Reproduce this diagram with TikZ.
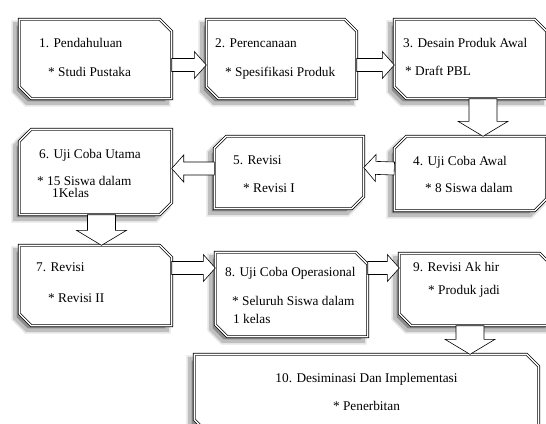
\documentclass[tikz,border=0pt]{standalone}
\usepackage{fontspec}
\setmainfont{Liberation Serif}
\usetikzlibrary{calc}

% chamfered outlines of the last node
\newcommand\fwdpath{(\tikzlastnode.north west) -- ([xshift=-12pt]\tikzlastnode.north east)
  -- ([yshift=-12pt]\tikzlastnode.north east) -- (\tikzlastnode.south east)
  -- ([xshift=12pt]\tikzlastnode.south west) -- ([yshift=12pt]\tikzlastnode.south west) -- cycle}
\newcommand\backpath{([xshift=12pt]\tikzlastnode.north west) -- (\tikzlastnode.north east)
  -- ([yshift=12pt]\tikzlastnode.south east) -- ([xshift=-12pt]\tikzlastnode.south east)
  -- (\tikzlastnode.south west) -- ([yshift=-12pt]\tikzlastnode.north west) -- cycle}

\tikzset{
  boxline/.style={draw, double, double distance=1.4pt, line width=0.7pt, fill=white},
  boxshadow/.style={transform canvas={xshift=-4.5pt, yshift=-4.5pt}},
  box/.style={rectangle, inner sep=0pt, minimum width=152pt,
    append after command={\pgfextra{
      \draw[boxshadow, line width=7pt, black!10] \fwdpath;
      \draw[boxshadow, line width=3.5pt, black!25, fill=black!45] \fwdpath;
      \path[boxline] \fwdpath;}}},
  backbox/.style={rectangle, inner sep=0pt, minimum width=152pt,
    append after command={\pgfextra{
      \draw[boxshadow, line width=7pt, black!10] \backpath;
      \draw[boxshadow, line width=3.5pt, black!25, fill=black!45] \backpath;
      \path[boxline] \backpath;}}},
  txt/.style={anchor=base west, inner sep=0pt, align=left, font=\fontsize{13.3}{14}\selectfont},
  blockarrow/.style n args={3}{draw, fill=white, line width=0.6pt, to path={
    let \p1=(\tikztostart), \p2=(\tikztotarget) in
      ($(\p1)!#1!90:(\p2)$) -- ($(\p2)!#3!(\p1)!#1!-90:(\p1)$)
      -- ($(\p2)!#3!(\p1)!#2!-90:(\p1)$) -- (\p2)
      -- ($(\p2)!#3!(\p1)!#2!90:(\p1)$) -- ($(\p2)!#3!(\p1)!#1!90:(\p1)$)
      -- ($(\p1)!#1!-90:(\p2)$) -- cycle}},
  harrow/.style={blockarrow={6.5pt}{13.5pt}{12pt}},
  varrow/.style={blockarrow={14pt}{25pt}{15pt}},
}

\begin{document}
\begin{tikzpicture}[x=1pt,y=-1pt]
  \path[use as bounding box, fill=white] (0,0) rectangle (546,423);
  \clip (0,0) rectangle (546,423);

  % boxes
  \node[box, minimum height=79pt] (b1) at (95.5,59) {};
  \node[box, minimum width=150pt, minimum height=79pt] (b2) at (281.5,59) {};
  \node[box, minimum height=79pt] (b3) at (470.5,59) {};
  \node[backbox, minimum height=74pt] (b4) at (470.5,173.5) {};
  \node[backbox, minimum width=149pt, minimum height=72pt] (b5) at (289,172.5) {};
  \node[backbox, minimum height=85pt] (b6) at (95.5,172) {};
  \node[box, minimum height=80pt] (b7) at (95.5,285.5) {};
  \node[box, minimum height=84pt] (b8) at (291.5,294.5) {};
  \node[box, minimum height=72pt] (b9) at (475.5,289.5) {};
  \node[box, minimum width=344pt, minimum height=77pt] (b10) at (366.5,393) {};

  % texts (placed at the baseline of the last line)
  \node[txt] (t1) at (39,76.5) {1. Pendahuluan\\[15pt]\hspace*{9pt}* Studi Pustaka};
  \node[txt] (t2) at (215,76.5) {2. Perencanaan\\[15pt]\hspace*{10pt}* Spesifikasi Produk};
  \node[txt] (t3) at (403,75.5) {3. Desain Produk Awal\\[14pt]\hspace*{2pt}* Draft PBL};
  \node[txt] (t4) at (413,192.5) {4. Uji Coba Awal\\[13pt]\hspace*{12pt}* 8 Siswa dalam};
  \node[txt] (t5) at (233,192.5) {5. Revisi\\[14pt]\hspace*{10pt}* Revisi I};
  \node[txt] (t6) at (37,197.5) {\hspace*{2pt}6. Uji Coba Utama\\[13pt]\hspace*{0pt}* 15 Siswa dalam\\[-1.5pt]\hspace*{15pt}1Kelas};
  \node[txt] (t7) at (36,302.5) {7. Revisi\\[17pt]\hspace*{12pt}* Revisi II};
  \node[txt] (t8) at (225,323.5) {8. Uji Coba Operasional\\[15pt]\hspace*{7pt}* Seluruh Siswa dalam\\[4pt]\hspace*{8pt}1 kelas};
  \node[txt] (t9) at (413,294.5) {9. Revisi Ak hir\\[9pt]\hspace*{15pt}* Produk jadi};
  \node[txt, anchor=base, align=center] (t10) at (366.5,410.5) {10. Desiminasi Dan Implementasi\\[14pt]* Penerbitan};

  % arrows
  \draw[harrow] ([yshift=-6pt]b1.east) to ([yshift=-6pt]b2.west);
  \draw[harrow] ([yshift=-6pt]b2.east) to ([yshift=-6pt]b3.west);
  \draw[varrow] ([xshift=12.5pt]b3.south) to ([xshift=12.5pt]b4.north);
  \draw[harrow] ([yshift=5pt]b4.west) to ([yshift=5pt]b5.east);
  \draw[harrow] ([yshift=4pt]b5.west) to ([yshift=3.5pt]b6.east);
  \draw[varrow] ([xshift=6pt]b6.south) to ([xshift=6pt]b7.north);
  \draw[harrow] ([yshift=17.5pt]b7.east) to ([yshift=26.5pt]b8.west);
  \draw[harrow] ([yshift=26.5pt]b8.east) to ([yshift=21.5pt]b9.west);
  \draw[varrow] ([xshift=-5.5pt]b9.south) to ([xshift=103.5pt]b10.north);
\end{tikzpicture}
\end{document}
